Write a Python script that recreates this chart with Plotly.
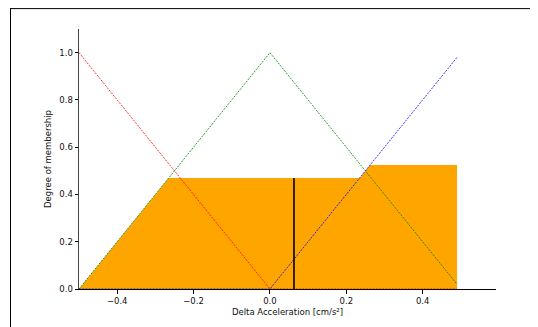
import plotly.graph_objects as go

# Membership function vertices (universe -0.5 .. 0.49)
neg_x = [-0.5, 0.0, 0.49]
neg_y = [1.0, 0.0, 0.0]
zero_x = [-0.5, 0.0, 0.49]
zero_y = [0.0, 1.0, 0.02]
pos_x = [-0.5, 0.0, 0.49]
pos_y = [0.0, 0.0, 0.98]

# Aggregated output (clipped activation)
agg_x = [-0.5, -0.265, 0.235, 0.2625, 0.49, 0.49]
agg_y = [0.0, 0.47, 0.47, 0.525, 0.525, 0.0]

# Defuzzified centroid and activation at centroid
centroid = 0.063
centroid_act = 0.47

x_ticks = [-0.4, -0.2, 0.0, 0.2, 0.4]
y_ticks = [0.0, 0.2, 0.4, 0.6, 0.8, 1.0]

FONT = "DejaVu Sans"
DASH = "2px,1.2px"

fig = go.Figure()
fig.add_trace(go.Scatter(x=agg_x, y=agg_y, fill="toself", fillcolor="#FFA500",
                         mode="lines", line=dict(width=0), hoverinfo="skip"))
fig.add_trace(go.Scatter(x=neg_x, y=neg_y, mode="lines",
                         line=dict(color="#ff0000", width=0.8, dash=DASH)))
fig.add_trace(go.Scatter(x=zero_x, y=zero_y, mode="lines",
                         line=dict(color="#008000", width=0.8, dash=DASH)))
fig.add_trace(go.Scatter(x=pos_x, y=pos_y, mode="lines",
                         line=dict(color="#0000ff", width=0.8, dash=DASH)))
fig.add_trace(go.Scatter(x=[centroid, centroid], y=[0, centroid_act], mode="lines",
                         line=dict(color="black", width=1.6)))

# page body has an 8px margin, so the figure starts at (8, 8) in the window
OFF = 8
L, R, T, B = 79 - OFF, 42, 29 - OFF, 38
W, H = 538 - OFF, 327 - OFF
pw, ph = W - L - R, H - T - B

def px2paper_x(px):
    return (px - OFF - L) / pw

def px2paper_y(py):
    return (H - B - (py - OFF)) / ph

fig.add_shape(type="line", xref="paper", yref="paper",
              x0=px2paper_x(10), x1=px2paper_x(545), y0=px2paper_y(8.6), y1=px2paper_y(8.6),
              line=dict(color="black", width=1))
fig.add_shape(type="line", xref="paper", yref="paper",
              x0=px2paper_x(10.5), x1=px2paper_x(10.5), y0=px2paper_y(8), y1=px2paper_y(340),
              line=dict(color="black", width=1))

fig.update_layout(
    width=W, height=H,
    margin=dict(l=L, r=R, t=T, b=B),
    plot_bgcolor="white", paper_bgcolor="white",
    showlegend=False,
    font=dict(family=FONT, size=8.5, color="#111"),
    xaxis=dict(range=[-0.5, 0.592], tickvals=x_ticks, tickformat=".1f",
               showgrid=False, zeroline=False, showline=True, linecolor="black", linewidth=1,
               ticks="outside", ticklen=3.5, tickcolor="black", tickwidth=0.8,
               title=dict(text="Delta Acceleration [cm/s²]", standoff=4,
                          font=dict(family=FONT, size=8.5))),
    yaxis=dict(range=[0, 1.1], tickvals=y_ticks, tickformat=".1f",
               showgrid=False, zeroline=False, showline=True, linecolor="#444", linewidth=1,
               ticks="outside", ticklen=3.5, tickcolor="black", tickwidth=0.8,
               title=dict(text="Degree of membership", standoff=6,
                          font=dict(family=FONT, size=8.5))),
)

fig.write_html("out.html")
